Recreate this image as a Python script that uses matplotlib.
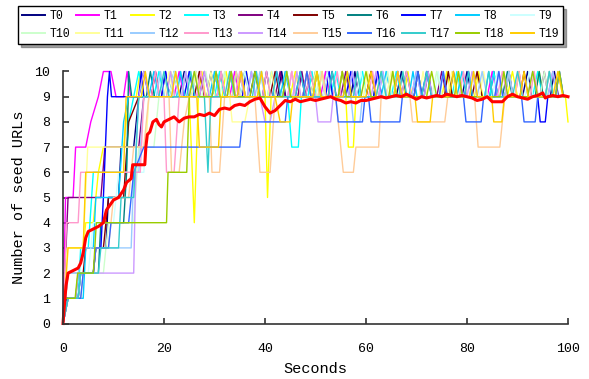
import matplotlib
matplotlib.use('Agg')
import matplotlib.pyplot as plt
from matplotlib.lines import Line2D

plt.rcParams['font.family'] = ['Liberation Mono', 'DejaVu Sans Mono']

names = ['T%d' % i for i in range(20)]
colors = ['#000080', '#FF00FF', '#FFFF00', '#00FFFF', '#800080',
          '#800000', '#008080', '#0000FF', '#00CCFF', '#CCFFFF',
          '#CCFFCC', '#FFFF99', '#99CCFF', '#FF99CC', '#CC99FF',
          '#FFCC99', '#3366FF', '#33CCCC', '#99CC00', '#FFCC00']

# (seconds, number of seed URLs)
t0 = [(0, 0), (0.8, 1), (3, 1), (3.5, 2), (6, 2), (6.5, 3), (8.5, 3), (9, 5), (11, 5), (11.5, 7), (14, 7),
      (15, 9), (16, 10), (17, 9), (23, 9), (24, 10), (25, 9), (28.5, 9), (29.3, 10), (30.1, 9),
      (37, 9), (38, 10), (39, 9), (42.5, 9), (43.3, 10), (44.1, 9), (48, 9), (49, 10), (50, 9),
      (52.5, 9), (53.3, 10), (54.1, 9), (57, 9), (57.8, 10), (58.6, 9), (66, 9), (67, 10), (68, 9),
      (71.5, 9), (72.3, 10), (73.1, 9), (79, 9), (80, 10), (81, 9), (84.5, 9), (85.3, 10), (86.1, 9),
      (91, 9), (92, 10), (93, 9), (96.5, 9), (97.3, 10), (98.1, 9), (100, 9)]
t1 = [(0, 0), (0.5, 5), (2, 5), (2.5, 7), (4.5, 7), (5.5, 8), (7, 9), (8, 10), (9.5, 10), (10.5, 9),
      (12, 9), (12.7, 10), (13.4, 9), (17.5, 9), (18.3, 10), (19.1, 9), (22, 9), (23, 10), (24, 9),
      (26.5, 9), (27.3, 10), (28.1, 9), (33, 9), (34, 10), (35, 9), (39.5, 9), (40.3, 10), (41.1, 9),
      (44.5, 9), (45.3, 10), (46.1, 9), (51, 9), (52, 10), (53, 9), (57.5, 9), (58.3, 10), (59.1, 9),
      (62.5, 9), (63.3, 10), (64.1, 9), (69, 9), (70, 10), (71, 9), (76.5, 9), (77.3, 10), (78.1, 9),
      (84, 9), (85, 10), (86, 9), (89.5, 9), (90.3, 10), (91.1, 9), (96, 9), (97, 10), (98, 9), (100, 9)]
t2 = [(0, 0), (0.8, 3), (4, 3), (4.5, 4), (6, 4), (7, 6), (8, 7), (12, 7), (13, 9), (14.5, 9),
      (15.3, 10), (16.1, 9), (20.5, 9), (21.3, 10), (22.1, 9), (25, 9), (26, 4), (26.8, 9), (27.5, 10),
      (28.2, 9), (31.5, 9), (32.3, 10), (33.1, 9), (35.5, 9), (36.3, 10), (37.1, 9), (40, 9), (40.5, 5),
      (41.2, 9), (45, 9), (46, 10), (47, 9), (50.5, 9), (51.3, 10), (52.1, 9), (56, 9), (56.5, 7),
      (57.5, 7), (58, 9), (62, 9), (63, 10), (64, 9), (67.5, 9), (68.3, 10), (69.1, 9), (75, 9),
      (76, 10), (77, 9), (81.5, 9), (82.3, 10), (83.1, 9), (88, 9), (89, 10), (90, 9), (93.5, 9),
      (94.3, 10), (95.1, 9), (99.5, 9), (100, 8)]
t3 = [(0, 0), (1, 1), (3, 1), (3.5, 3), (5, 3), (6, 6), (12.5, 6), (13, 8), (14, 9), (15, 10), (16, 9),
      (18, 9), (19, 10), (20, 9), (23.5, 9), (24.3, 10), (25.1, 9), (30, 9), (31, 10), (32, 9),
      (36.5, 9), (37.3, 10), (38.1, 9), (40.5, 9), (41.3, 10), (42.1, 9), (44.5, 9), (45.3, 7),
      (46.6, 7), (47.2, 9), (48.5, 9), (49.3, 10), (50.1, 9), (53, 9), (54, 10), (55, 9), (58.5, 9),
      (59.3, 10), (60.1, 9), (65, 9), (66, 10), (67, 9), (69.5, 9), (70.3, 10), (71.1, 9), (77, 9),
      (78, 10), (79, 9), (84.5, 9), (85.3, 10), (86.1, 9), (93, 9), (94, 10), (95, 9), (97.5, 9),
      (98.3, 10), (99.1, 9), (100, 9)]
t4 = [(0, 0), (0.6, 3), (1, 5), (7.5, 5), (8.3, 7), (15, 7), (16, 9), (19.5, 9), (20.3, 10), (21.1, 9),
      (27, 9), (28, 10), (29, 9), (32.5, 9), (33.3, 10), (34.1, 9), (42, 9), (43, 10), (44, 9),
      (46.5, 9), (47.3, 10), (48.1, 9), (51.5, 9), (52.3, 10), (53.1, 9), (55, 9), (56, 10), (57, 9),
      (60, 9), (61, 10), (62, 9), (65.5, 9), (66.3, 10), (67.1, 9), (74, 9), (75, 10), (76, 9),
      (87.5, 9), (88.3, 10), (89.1, 9), (94.5, 9), (95.3, 10), (96.1, 9), (100, 9)]
t5 = [(0, 0), (1, 2), (4, 2), (4.5, 3), (8, 3), (9, 5), (12, 5), (13, 8), (15, 9), (17.5, 9), (18.3, 10),
      (19.1, 9), (26, 9), (27, 10), (28, 9), (30.5, 9), (31.3, 10), (32.1, 9), (34.5, 9), (35.3, 10),
      (36.1, 9), (41, 9), (42, 10), (43, 9), (47.5, 9), (48.3, 10), (49.1, 9), (54.5, 9), (55.3, 10),
      (56.1, 9), (60, 9), (61, 10), (62, 9), (69.5, 9), (70.3, 10), (71.1, 9), (75.5, 9), (76.3, 10),
      (77.1, 9), (81, 9), (82, 10), (83, 9), (90.5, 9), (91.3, 10), (92.1, 9), (100, 9)]
t6 = [(0, 0), (1, 1), (2.5, 1), (3, 2), (7, 2), (7.5, 4), (12, 4), (12.6, 6), (13, 10), (13.6, 9),
      (16.5, 9), (17.3, 10), (18.1, 9), (21, 9), (22, 10), (23, 9), (25.5, 9), (26.3, 10), (27.1, 9),
      (29.5, 9), (30.3, 10), (31.1, 9), (35, 9), (36, 10), (37, 9), (39.5, 9), (40.3, 10), (41.1, 9),
      (43.5, 9), (44.3, 10), (45.1, 9), (49, 9), (50, 10), (51, 9), (55.5, 9), (56.3, 10), (57.1, 9),
      (61.5, 9), (62.3, 10), (63.1, 9), (67, 9), (68, 10), (69, 9), (76.5, 9), (77.3, 10), (78.1, 9),
      (87, 9), (88, 10), (89, 9), (93.5, 9), (94.3, 10), (95.1, 9), (100, 9)]
t7 = [(0, 0), (1, 1), (3, 1), (3.5, 2), (6, 2), (6.5, 3), (7.5, 3), (8, 5), (8.8, 9), (9.2, 10),
      (9.6, 9), (15, 9), (15.5, 10), (16, 9), (19.5, 9), (20.3, 10), (21.1, 9), (24, 9), (25, 10),
      (26, 9), (29.5, 9), (30.3, 10), (31.1, 9), (35.5, 9), (36.3, 10), (37.1, 9), (41.5, 9),
      (42.3, 10), (43.1, 9), (46, 9), (47, 10), (48, 9), (52, 9), (52.7, 10), (53.4, 9), (56, 9),
      (57, 10), (58, 9), (61.5, 9), (62.3, 10), (63.1, 9), (65.5, 9), (66.3, 10), (67.1, 9), (71, 9),
      (72, 10), (73, 9), (79.5, 9), (80.3, 10), (81.1, 9), (87.5, 9), (88.3, 10), (89.1, 9), (94, 9),
      (94.5, 8), (95.5, 8), (96, 9), (100, 9)]
t8 = [(0, 0), (1, 1), (4, 1), (4.5, 3), (6, 3), (6.5, 5), (11, 5), (12, 8), (13, 9), (17, 9), (18, 10),
      (19, 9), (22.5, 9), (23.3, 10), (24.1, 9), (29, 9), (30, 10), (31, 9), (33.5, 9), (34.3, 10),
      (35.1, 9), (38.5, 9), (39.3, 10), (40.1, 9), (43, 9), (44, 10), (45, 9), (49.5, 9), (50.3, 10),
      (51.1, 9), (56.5, 9), (57.3, 10), (58.1, 9), (63, 9), (64, 10), (65, 9), (68.5, 9), (69.3, 10),
      (70.1, 9), (78, 9), (79, 10), (80, 9), (83.5, 9), (84.3, 10), (85.1, 9), (95.5, 9), (96.3, 10),
      (97.1, 9), (100, 9)]
t9 = [(0, 0), (1, 2), (5, 2), (6, 4), (10, 4), (11, 6), (16, 6), (17, 9), (21, 9), (22, 10), (23, 9),
      (25.5, 9), (26.3, 10), (27.1, 9), (29.5, 9), (30.3, 10), (31.1, 9), (35, 9), (36, 10), (37, 9),
      (44.5, 9), (45.3, 10), (46.1, 9), (51.5, 9), (52.3, 10), (53.1, 9), (58, 9), (59, 10), (60, 9),
      (65.5, 9), (66.3, 10), (67.1, 9), (73.5, 9), (74.3, 10), (75.1, 9), (85, 9), (86, 10), (87, 9),
      (91.5, 9), (92.3, 10), (93.1, 9), (100, 9)]
t10 = [(0, 0), (1, 1), (3, 1), (3.5, 2), (8, 2), (9, 4), (14, 4), (15, 7), (18, 7), (19, 9), (23.5, 9),
       (24.3, 10), (25.1, 9), (27.5, 9), (28.3, 10), (29.1, 9), (31, 9), (32, 10), (33, 9), (38.5, 9),
       (39.3, 10), (40.1, 9), (43.5, 9), (44.3, 10), (45.1, 9), (50, 9), (51, 10), (52, 9), (57.5, 9),
       (58.3, 10), (59.1, 9), (63.5, 9), (64.3, 10), (65.1, 9), (73, 9), (74, 10), (75, 9), (80.5, 9),
       (81.3, 10), (82.1, 9), (94.5, 9), (95.3, 10), (96.1, 9), (100, 9)]
t11 = [(0, 0), (0.8, 3), (4, 3), (4.9, 7), (16.4, 7), (17, 9), (20, 9), (21, 10), (22, 9), (25.5, 9),
       (26.3, 10), (27.1, 9), (28.5, 9), (29.3, 10), (30.1, 9), (33, 9), (33.5, 8), (36, 8), (37, 9),
       (40.5, 9), (41.3, 10), (42.1, 9), (45.5, 9), (46.3, 10), (47.1, 9), (49, 9), (50, 10), (51, 9),
       (54.5, 9), (55.3, 10), (56.1, 9), (59.5, 9), (60.3, 10), (61.1, 9), (64, 9), (65, 10), (66, 9),
       (70.5, 9), (71.3, 10), (72.1, 9), (76, 9), (77, 10), (78, 9), (82.5, 9), (83.3, 10), (84.1, 9),
       (87.5, 9), (88.3, 10), (89.1, 9), (92.5, 9), (93.3, 10), (94.1, 9), (97, 9), (98, 10), (99, 9),
       (100, 9)]
t12 = [(0, 0), (1, 2), (3, 2), (4, 3), (13.5, 3), (14, 6), (15, 6), (16, 9), (18.5, 9), (19.3, 10),
       (20.1, 9), (21.5, 9), (22.3, 10), (23.1, 9), (25, 9), (26, 10), (27, 9), (30.5, 9), (31.3, 10),
       (32.1, 9), (34.5, 9), (35.3, 10), (36.1, 9), (38, 9), (39, 10), (40, 9), (43.5, 9), (44.3, 10),
       (45.1, 9), (47.5, 9), (48.3, 10), (49.1, 9), (57, 9), (57.5, 8), (58.8, 8), (59.3, 9), (62.5, 9),
       (63.3, 10), (64.1, 9), (69, 9), (70, 10), (71, 9), (74.5, 9), (75.3, 10), (76.1, 9), (82, 9),
       (83, 10), (84, 9), (87.5, 9), (88.3, 10), (89.1, 9), (96, 9), (97, 10), (98, 9), (100, 9)]
t13 = [(0, 0), (0.7, 4), (3, 4), (3.5, 6), (15.3, 6), (16, 9), (17.5, 9), (18.3, 10), (19.1, 9),
       (20, 9), (20.5, 6), (22, 6), (23, 9), (26.5, 9), (27.3, 10), (28.1, 9), (30.5, 9), (31.3, 10),
       (32.1, 9), (34, 9), (35, 10), (36, 9), (39.5, 9), (40.3, 10), (41.1, 9), (44.5, 9), (45.3, 10),
       (46.1, 9), (48, 9), (49, 10), (50, 9), (53.5, 9), (54.3, 10), (55.1, 9), (60.5, 9), (61.3, 10),
       (62.1, 9), (67, 9), (68, 10), (69, 9), (78.5, 9), (79.3, 10), (80.1, 9), (86, 9), (87, 10),
       (88, 9), (92.5, 9), (93.3, 10), (94.1, 9), (100, 9)]
t14 = [(0, 0), (1, 1), (2.5, 1), (3, 2), (14, 2), (14.5, 7), (15, 9), (16, 10), (17, 9), (20.5, 9),
       (21.3, 10), (22.1, 9), (23.5, 9), (24.3, 10), (25.1, 9), (27, 9), (28, 10), (29, 9), (32.5, 9),
       (33.3, 10), (34.1, 9), (36.5, 9), (37.3, 10), (38.1, 9), (39, 9), (40, 8), (41, 8), (42, 9),
       (45.5, 9), (46.3, 10), (47.1, 9), (50, 9), (50.5, 8), (53, 8), (53.5, 9), (56.5, 9), (57.3, 10),
       (58.1, 9), (61, 9), (62, 10), (63, 9), (65.5, 9), (66.3, 10), (67.1, 9), (71.5, 9), (72.3, 10),
       (73.1, 9), (80, 9), (81, 10), (82, 9), (85.5, 9), (86.3, 10), (87.1, 9), (92, 9), (93, 10),
       (94, 9), (97.5, 9), (98.3, 10), (99.1, 9), (100, 9)]
t15 = [(0, 0), (1, 1), (3.5, 1), (4, 2), (6, 2), (6.5, 3), (9, 3), (10, 5), (13, 5), (14, 7), (16, 7),
       (17, 9), (21, 9), (21.5, 6), (23, 6), (24, 8), (25, 9), (29, 9), (29.5, 6), (31, 6), (32, 9),
       (33.5, 9), (34.3, 10), (35.1, 9), (38, 9), (39, 6), (41, 6), (42, 9), (47.5, 9), (48.3, 10),
       (49.1, 9), (50.5, 9), (51.3, 10), (52.1, 9), (54, 9), (55.5, 6), (57.5, 6), (58, 7), (62.5, 7),
       (63, 9), (64.5, 9), (65.3, 10), (66.1, 9), (68.7, 9), (69.2, 8), (75.6, 8), (76.2, 9), (77.5, 9),
       (78.3, 10), (79.1, 9), (81.5, 9), (82.2, 7), (86.5, 7), (87, 8), (87.5, 9), (89.5, 9),
       (90.3, 10), (91.1, 9), (95.5, 9), (96.3, 10), (97.1, 9), (100, 9)]
t16 = [(0, 0), (1, 1), (3.5, 1), (4, 2), (6, 2), (6.5, 3), (9, 3), (9.5, 4), (13, 4), (14, 6), (16, 7),
       (35, 7), (35.5, 8), (44, 8), (44.5, 9), (47.5, 9), (48.3, 10), (49.1, 9), (54, 9), (54.5, 8),
       (59.3, 8), (59.8, 9), (60.5, 9), (61, 8), (66.7, 8), (67.2, 9), (69.5, 9), (70.3, 10), (71.1, 9),
       (74.5, 9), (75.3, 10), (76.1, 9), (79.3, 9), (79.8, 8), (82.8, 8), (83.3, 9), (85.5, 9),
       (86.3, 10), (87.1, 9), (90.8, 9), (91.3, 8), (93.5, 8), (94, 9), (97.5, 9), (98.3, 10),
       (99.1, 9), (100, 9)]
t17 = [(0, 0), (1, 1), (3, 1), (3.5, 2), (7, 2), (7.5, 3), (11, 3), (11.5, 5), (14, 5), (15, 9), (19, 9),
       (20, 10), (21, 9), (24.5, 9), (25.3, 10), (26.1, 9), (28, 9), (28.7, 6), (29.3, 9), (32, 9),
       (33, 10), (34, 9), (37.5, 9), (38.3, 10), (39.1, 9), (41.5, 9), (42.3, 10), (43.1, 9), (46, 9),
       (47, 10), (48, 9), (52.5, 9), (53.3, 10), (54.1, 9), (57.5, 9), (58.3, 10), (59.1, 9), (62, 9),
       (63, 10), (64, 9), (66.5, 9), (67.3, 10), (68.1, 9), (71, 9), (72, 10), (73, 9), (79.5, 9),
       (80.3, 10), (81.1, 9), (83.5, 9), (84.3, 10), (85.1, 9), (89, 9), (90, 10), (91, 9), (95.5, 9),
       (96.3, 10), (97.1, 9), (100, 9)]
t18 = [(0, 0), (0.5, 1), (2.4, 1), (2.9, 2), (6, 2), (6.6, 4), (20.5, 4), (20.8, 6), (24.5, 6), (25, 9),
       (26, 10), (27, 9), (29.5, 9), (30.3, 10), (31.1, 9), (32.5, 9), (33.3, 10), (34.1, 9), (37, 9),
       (38, 10), (39, 9), (43.5, 9), (44.3, 10), (45.1, 9), (49.5, 9), (50.3, 10), (51.1, 9), (54.5, 9),
       (55.3, 10), (56.1, 9), (59, 9), (60, 10), (61, 9), (64.5, 9), (65.3, 10), (66.1, 9), (72, 9),
       (73, 10), (74, 9), (77.5, 9), (78.3, 10), (79.1, 9), (86.5, 9), (87.3, 10), (88.1, 9), (92, 9),
       (93, 10), (94, 9), (97.5, 9), (98.3, 10), (99.1, 9), (100, 9)]
t19 = [(0, 0), (1, 3), (4, 3), (4.5, 6), (12, 6), (12.5, 9), (15.5, 9), (16.3, 10), (17.1, 9), (21.5, 9),
       (22.3, 10), (23.1, 9), (26.5, 9), (27, 7), (30.8, 7), (31.3, 9), (34.5, 9), (35.3, 10), (36.1, 9),
       (38.5, 9), (39.3, 10), (40.1, 9), (42, 9), (43, 8), (45, 8), (45.5, 9), (49.5, 9), (50.3, 10),
       (51.1, 9), (55.5, 9), (56.3, 10), (57.1, 9), (60, 9), (61, 10), (62, 9), (65.5, 9), (66.3, 10),
       (67.1, 9), (69.7, 9), (70.2, 8), (72.7, 8), (73.2, 9), (76.5, 9), (77.3, 10), (78.1, 9),
       (80.5, 9), (81.3, 10), (82.1, 9), (84.9, 9), (85.3, 8), (86.9, 8), (87.4, 9), (90.5, 9),
       (91.3, 10), (92.1, 9), (97, 9), (98, 10), (99, 9), (100, 9)]
series = [t0, t1, t2, t3, t4, t5, t6, t7, t8, t9, t10, t11, t12, t13, t14, t15, t16, t17, t18, t19]

average = [(0, 0), (0.3, 0.8), (0.6, 1.5), (1, 2.0), (2, 2.1), (3, 2.2), (3.5, 2.4), (4, 2.8),
           (4.5, 3.4), (5, 3.65), (6, 3.75), (7, 3.85), (8, 4.0), (8.6, 4.5), (9.3, 4.7), (10, 4.9),
           (11, 5.0), (12, 5.3), (12.6, 5.6), (13.5, 5.75), (13.8, 6.3), (16.2, 6.3), (16.4, 7.0),
           (16.7, 7.5), (17.2, 7.6), (17.8, 8.0), (18.5, 8.1), (19, 7.9), (19.5, 7.8), (20, 8.0),
           (21, 8.1), (22, 8.2), (23, 8.0), (24, 8.15), (25, 8.2), (26, 8.2), (27, 8.3), (28, 8.25),
           (29, 8.35), (30, 8.25), (31, 8.5), (32, 8.55), (33, 8.5), (34, 8.65), (35, 8.7), (36, 8.65),
           (37, 8.8), (38, 8.9), (39, 8.95), (40, 8.6), (41, 8.35), (42, 8.45), (43, 8.65), (44, 8.85),
           (45, 8.8), (46, 8.9), (47, 8.8), (48, 8.85), (49, 8.9), (50, 8.85), (51, 8.9), (52, 8.95),
           (53, 9.0), (54, 8.9), (55, 8.85), (56, 8.75), (57, 8.8), (58, 8.75), (59, 8.85), (60, 8.85),
           (61, 8.9), (62, 8.95), (63, 9.0), (64, 8.95), (65, 9.0), (66, 9.05), (67, 9.0), (68, 9.1),
           (69, 9.0), (70, 8.9), (71, 9.0), (72, 8.95), (73, 9.0), (74, 9.05), (75, 9.0), (76, 9.1),
           (77, 9.05), (78, 9.0), (79, 9.05), (80, 9.0), (81, 8.95), (82, 8.85), (83, 8.9), (84, 9.0),
           (85, 8.8), (86, 8.8), (87, 8.8), (88, 9.0), (89, 9.1), (90, 9.0), (91, 8.95), (92, 8.9),
           (93, 9.0), (94, 9.05), (95, 9.15), (95.5, 8.95), (96, 9.0), (97, 9.05), (98, 9.0),
           (99, 9.05), (100, 9.0)]

x_ticks = [0, 20, 40, 60, 80, 100]
y_ticks = list(range(11))


def main():
    fig = plt.figure(figsize=(5.89, 3.79), dpi=100)
    ax = fig.add_axes([63 / 589, 1 - 323.5 / 379, 505 / 589, 252 / 379])

    for pts, c in zip(series, colors):
        ax.plot([p[0] for p in pts], [p[1] for p in pts], color=c, lw=1.0, clip_on=False)
    ax.plot([p[0] for p in average], [p[1] for p in average], color='#FF0000', lw=2.2, clip_on=False)

    ax.set_xlim(0, 100)
    ax.set_ylim(0, 10)
    ax.set_xticks(x_ticks)
    ax.set_yticks(y_ticks)
    for s in ['top', 'right']:
        ax.spines[s].set_visible(False)
    for s in ['left', 'bottom']:
        ax.spines[s].set_color('#333333')
        ax.spines[s].set_linewidth(1.2)
    ax.tick_params(axis='y', direction='in', length=4, width=1.2, color='#333333', pad=9,
                   labelsize=9.5)
    ax.tick_params(axis='x', direction='in', length=4, width=1.2, color='#333333', pad=14,
                   labelsize=9.5)
    ax.set_xlabel('Seconds', fontsize=11, labelpad=5)
    ax.set_ylabel('Number of seed URLs', fontsize=11, labelpad=6)

    # legend fills column by column, so interleave the two rows
    order = [i + 10 * r for i in range(10) for r in range(2)]
    handles = [Line2D([], [], color=colors[k], lw=1.4) for k in order]
    labels = [names[k] for k in order]
    fig.legend(handles, labels, ncol=10, mode='expand', loc='lower left',
               bbox_to_anchor=(18 / 589, 1 - 44 / 379, 545 / 589, 40 / 379),
               fontsize=8.3, handlelength=2.0, handletextpad=0.4, borderpad=0.35,
               labelspacing=0.5, fancybox=False, shadow=True, edgecolor='black',
               framealpha=1, borderaxespad=0)

    fig.savefig('out.png', dpi=100)


if __name__ == '__main__':
    main()
